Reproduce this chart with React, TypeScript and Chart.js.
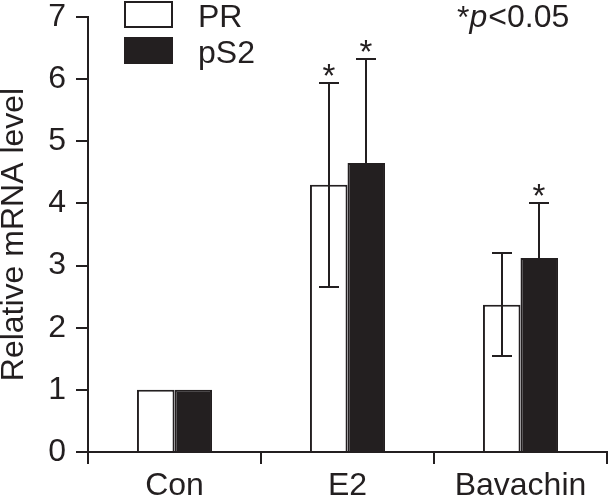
import React, { useEffect, useRef } from "react";
import { Chart, registerables } from "chart.js";

Chart.register(...registerables);

const categories = ["Con", "E2", "Bavachin"];
const seriesNames = ["PR", "pS2"];
const prValues = [1, 4.3, 2.37];
const ps2Values = [1, 4.65, 3.12];
const prErrors = [0, 1.64, 0.83];
const ps2Errors = [0, 1.68, 0.88];
const prSig = [false, true, false];
const ps2Sig = [false, true, true];
const yTickValues = [0, 1, 2, 3, 4, 5, 6, 7];
const yTitle = "Relative mRNA level";
const noteStar = "*";
const noteP = "p";
const noteRest = "<0.05";

const INK = "#231f20";
const FONT = "'Liberation Sans', Arial, Helvetica, sans-serif";

const errorsBySeries = [prErrors, ps2Errors];
const sigBySeries = [prSig, ps2Sig];

const errorBarPlugin = {
  id: "errorBars",
  afterDatasetsDraw(chart: any) {
    const ctx = chart.ctx;
    const yScale = chart.scales.y;
    ctx.save();
    ctx.strokeStyle = INK;
    ctx.fillStyle = INK;
    ctx.lineWidth = 2;
    chart.data.datasets.forEach((ds: any, i: number) => {
      const meta = chart.getDatasetMeta(i);
      meta.data.forEach((el: any, j: number) => {
        const v = ds.data[j];
        const e = errorsBySeries[i][j];
        const x = Math.round(el.x);
        if (e > 0) {
          const yt = Math.round(yScale.getPixelForValue(v + e));
          const yb = Math.round(yScale.getPixelForValue(v - e));
          ctx.beginPath();
          ctx.moveTo(x, yt);
          ctx.lineTo(x, yb);
          ctx.moveTo(x - 10, yt);
          ctx.lineTo(x + 10, yt);
          ctx.moveTo(x - 10, yb);
          ctx.lineTo(x + 10, yb);
          ctx.stroke();
        }
        if (sigBySeries[i][j]) {
          const yt = yScale.getPixelForValue(v + e);
          ctx.font = `33px ${FONT}`;
          ctx.textAlign = "center";
          ctx.textBaseline = "alphabetic";
          ctx.fillText("*", x, yt + 4);
        }
      });
    });
    ctx.restore();
  },
  afterDraw(chart: any) {
    const ctx = chart.ctx;
    ctx.save();
    // legend
    ctx.lineWidth = 2;
    ctx.strokeStyle = INK;
    ctx.fillStyle = "#ffffff";
    ctx.fillRect(125, 2, 47, 25);
    ctx.strokeRect(125, 2, 47, 25);
    ctx.fillStyle = INK;
    ctx.fillRect(124, 37, 49, 27);
    ctx.font = `32px ${FONT}`;
    ctx.textAlign = "left";
    ctx.textBaseline = "alphabetic";
    ctx.fillText(seriesNames[0], 198, 27);
    ctx.fillText(seriesNames[1], 198, 63);
    // note
    let x = 457;
    const base = 27;
    ctx.font = `32px ${FONT}`;
    ctx.fillText(noteStar, x, base + 1);
    x += ctx.measureText(noteStar).width;
    ctx.font = `italic 32px ${FONT}`;
    ctx.fillText(noteP, x, base);
    x += ctx.measureText(noteP).width + 1;
    ctx.font = `32px ${FONT}`;
    ctx.fillText(noteRest, x, base);
    ctx.restore();
  },
};

export default function App() {
  const canvasRef = useRef<HTMLCanvasElement>(null);

  useEffect(() => {
    if (!canvasRef.current) return;
    const chart = new Chart(canvasRef.current, {
      type: "bar",
      data: {
        labels: categories,
        datasets: [
          {
            label: seriesNames[0],
            data: prValues,
            backgroundColor: "#ffffff",
            borderColor: INK,
            borderWidth: 2,
            categoryPercentage: 0.434,
            barPercentage: 1,
          },
          {
            label: seriesNames[1],
            data: ps2Values,
            backgroundColor: INK,
            borderColor: INK,
            borderWidth: 2,
            categoryPercentage: 0.434,
            barPercentage: 1,
          },
        ],
      },
      options: {
        responsive: false,
        animation: false,
        events: [],
        layout: { padding: { top: 17, right: 2, left: 0, bottom: 0 } },
        plugins: {
          legend: { display: false },
          tooltip: { enabled: false },
          title: { display: false },
        },
        scales: {
          x: {
            offset: true,
            grid: {
              offset: true,
              drawOnChartArea: false,
              drawTicks: true,
              tickLength: 12,
              color: INK,
              lineWidth: 2,
            },
            border: { display: true, color: INK, width: 2 },
            ticks: {
              color: INK,
              padding: 6,
              font: { family: FONT, size: 32, lineHeight: 1 },
              maxRotation: 0,
            },
            afterFit(scale: any) {
              scale.height = 46;
            },
          },
          y: {
            min: 0,
            max: 7,
            afterBuildTicks(scale: any) {
              scale.ticks = yTickValues.map((v) => ({ value: v }));
            },
            grid: {
              drawOnChartArea: false,
              drawTicks: true,
              tickLength: 12,
              color: INK,
              lineWidth: 2,
            },
            border: { display: true, color: INK, width: 2 },
            ticks: {
              color: INK,
              padding: 10,
              font: { family: FONT, size: 32, lineHeight: 0.2 },
            },
            title: {
              display: true,
              text: yTitle,
              color: INK,
              padding: { top: -2, bottom: 0 },
              font: { family: FONT, size: 32, lineHeight: 1 },
            },
            afterFit(scale: any) {
              scale.width = 88;
            },
          },
        },
      },
      plugins: [errorBarPlugin],
    });
    return () => chart.destroy();
  }, []);

  return (
    <div style={{ position: "absolute", left: 0, top: 0, width: 609, height: 498, background: "#fff" }}>
      <canvas ref={canvasRef} width={609} height={498} style={{ display: "block" }} />
    </div>
  );
}
